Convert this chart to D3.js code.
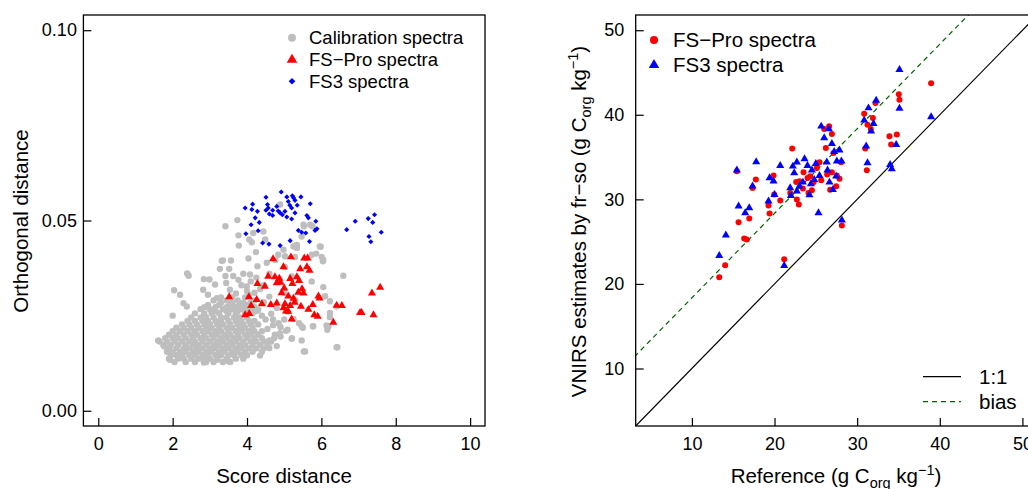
<html>
<meta charset="utf-8">
<style>
body { margin: 0; background: #fff; }
text { font-family: "Liberation Sans", Arial, sans-serif; fill: #000; }
.tick text { font-size: 18px; }
.title { font-size: 20.5px; }
.leg1 { font-size: 18.5px; }
.leg2 { font-size: 20.5px; }
</style>
<body>
<script src="https://cdn.jsdelivr.net/npm/d3@7"></script>
<script>

/* left panel: score distance vs orthogonal distance */
var calib = [
  // dense core, row by row
  [2.05,0.0128],[2.35,0.0128],[2.6,0.0128],[2.9,0.0128],[3.1,0.0128],[3.35,0.0128],[3.55,0.0128],
  [1.9,0.0137],[2.15,0.0137],[2.3,0.0137],[2.5,0.0137],[2.7,0.0137],[2.85,0.0137],[3.0,0.0137],[3.2,0.0137],[3.45,0.0137],[3.7,0.0137],[3.9,0.0137],
  [1.95,0.0146],[2.1,0.0146],[2.25,0.0146],[2.45,0.0146],[2.6,0.0146],[2.8,0.0146],[2.95,0.0146],[3.15,0.0146],[3.3,0.0146],[3.5,0.0146],[3.65,0.0146],[3.85,0.0146],[4.0,0.0146],
  [1.85,0.0155],[2.0,0.0155],[2.2,0.0155],[2.35,0.0155],[2.55,0.0155],[2.7,0.0155],[2.9,0.0155],[3.05,0.0155],[3.25,0.0155],[3.4,0.0155],[3.6,0.0155],[3.75,0.0155],[3.95,0.0155],[4.15,0.0155],
  [1.9,0.0164],[2.1,0.0164],[2.3,0.0164],[2.45,0.0164],[2.65,0.0164],[2.8,0.0164],[3.0,0.0164],[3.15,0.0164],[3.35,0.0164],[3.5,0.0164],[3.7,0.0164],[3.85,0.0164],[4.05,0.0164],[4.25,0.0164],[4.45,0.0164],
  [1.75,0.0173],[1.95,0.0173],[2.15,0.0173],[2.35,0.0173],[2.55,0.0173],[2.7,0.0173],[2.9,0.0173],[3.1,0.0173],[3.25,0.0173],[3.45,0.0173],[3.6,0.0173],[3.8,0.0173],[3.95,0.0173],[4.15,0.0173],[4.35,0.0173],[4.55,0.0173],
  [1.65,0.0182],[1.85,0.0182],[2.05,0.0182],[2.25,0.0182],[2.45,0.0182],[2.6,0.0182],[2.8,0.0182],[3.0,0.0182],[3.2,0.0182],[3.35,0.0182],[3.55,0.0182],[3.7,0.0182],[3.9,0.0182],[4.1,0.0182],[4.25,0.0182],[4.45,0.0182],[4.65,0.0182],
  [1.8,0.0191],[2.0,0.0191],[2.15,0.0191],[2.35,0.0191],[2.55,0.0191],[2.75,0.0191],[2.9,0.0191],[3.1,0.0191],[3.3,0.0191],[3.45,0.0191],[3.65,0.0191],[3.8,0.0191],[4.0,0.0191],[4.2,0.0191],[4.4,0.0191],
  [1.9,0.0200],[2.1,0.0200],[2.3,0.0200],[2.5,0.0200],[2.65,0.0200],[2.85,0.0200],[3.05,0.0200],[3.2,0.0200],[3.4,0.0200],[3.55,0.0200],[3.75,0.0200],[3.95,0.0200],[4.1,0.0200],[4.3,0.0200],
  [2.0,0.0209],[2.2,0.0209],[2.4,0.0209],[2.6,0.0209],[2.8,0.0209],[2.95,0.0209],[3.15,0.0209],[3.3,0.0209],[3.5,0.0209],[3.7,0.0209],[3.85,0.0209],[4.05,0.0209],[4.2,0.0209],[4.4,0.0209],
  [2.1,0.0218],[2.3,0.0218],[2.5,0.0218],[2.7,0.0218],[2.9,0.0218],[3.05,0.0218],[3.25,0.0218],[3.45,0.0218],[3.6,0.0218],[3.8,0.0218],[3.95,0.0218],[4.15,0.0218],
  [2.25,0.0227],[2.45,0.0227],[2.65,0.0227],[2.85,0.0227],[3.0,0.0227],[3.2,0.0227],[3.35,0.0227],[3.55,0.0227],[3.75,0.0227],[3.9,0.0227],[4.1,0.0227],[4.3,0.0227],
  [2.4,0.0236],[2.6,0.0236],[2.8,0.0236],[2.95,0.0236],[3.15,0.0236],[3.3,0.0236],[3.5,0.0236],[3.7,0.0236],[3.85,0.0236],[4.05,0.0236],[4.2,0.0236],
  [2.5,0.0245],[2.75,0.0245],[2.9,0.0245],[3.1,0.0245],[3.3,0.0245],[3.45,0.0245],[3.65,0.0245],[3.8,0.0245],[4.0,0.0245],
  [2.6,0.0256],[2.85,0.0256],[3.05,0.0256],[3.25,0.0256],[3.5,0.0256],[3.7,0.0256],[3.95,0.0256],[4.15,0.0256],
  [3.15,0.0262],[3.45,0.0262],[3.75,0.0262],[4.0,0.0262],[4.25,0.0262],
  [2.75,0.0267],[3.0,0.0267],[3.35,0.0267],[3.6,0.0267],[3.85,0.0267],[4.1,0.0267],
  [2.85,0.0272],[3.15,0.0272],[3.45,0.0272],[3.7,0.0272],[3.95,0.0272],[4.2,0.0272],
  [2.95,0.0278],[3.25,0.0278],[3.55,0.0278],[3.8,0.0278],[4.0,0.0278],
  [3.3,0.0284],[3.6,0.0284],[3.9,0.0284],[4.1,0.0284],
  [3.1,0.0290],[3.45,0.0290],[3.75,0.0290],[4.2,0.0290],
  [3.3,0.0298],[3.6,0.0298],[3.95,0.0298],[3.7,0.0308],[4.05,0.0305],
  // lower right of the core
  [4.6,0.0185],[4.75,0.0200],[4.9,0.0195],[5.05,0.0210],[4.7,0.0225],[4.55,0.0215],[4.85,0.0230],[5.0,0.0240],
  [4.8,0.0170],[4.6,0.0165],[4.4,0.0155],[4.5,0.0240],[4.65,0.0255],[4.4,0.0250],[4.3,0.0265],[4.45,0.0285],
  [4.6,0.0300],[4.2,0.0310],[4.0,0.0315],[4.35,0.0320],[3.85,0.0330],
  [4.8,0.0270],[5.0,0.0310],[4.7,0.0240],[5.1,0.0260],[4.9,0.0220],[5.3,0.0290],[5.4,0.0230],[4.45,0.0330],
  [4.25,0.0350],[4.1,0.0340],[3.9,0.0360],[4.6,0.0360],[4.85,0.0340],
  // scattered points
  [1.61,0.0185],[1.78,0.0169],[1.93,0.0134],[2.04,0.0317],[2.20,0.0305],[2.00,0.0250],[2.39,0.0361],[2.43,0.0355],
  [2.84,0.0346],[2.99,0.0345],[3.14,0.0332],[3.27,0.0373],[3.35,0.0395],[3.57,0.0395],[3.63,0.0354],[3.42,0.0354],
  [3.74,0.0501],[3.42,0.0485],[3.78,0.0434],[3.77,0.0461],[4.04,0.0400],[4.24,0.0417],[4.06,0.0450],[4.49,0.0450],
  [4.28,0.0380],[4.53,0.0389],[4.76,0.0396],[5.02,0.0406],[5.25,0.0432],[5.34,0.0428],[5.53,0.0485],[5.76,0.0485],
  [5.98,0.0431],[6.01,0.0404],[6.04,0.0393],[5.86,0.0413],[6.59,0.0355],[6.05,0.0325],[6.23,0.0288],[6.23,0.0257],
  [6.16,0.0213],[6.14,0.0224],[6.43,0.0167],[5.53,0.0156],[5.50,0.0218],[5.77,0.0222],[5.47,0.0185],[5.21,0.0191],
  [5.09,0.0213],[4.89,0.0204],[4.73,0.0191],[4.35,0.0145],[3.90,0.0143],[3.50,0.0130],[3.20,0.0134],[2.84,0.0127],
  [4.89,0.0542],[5.52,0.0489],[5.70,0.0489],[5.34,0.0436],[5.47,0.0458],[5.74,0.0410],[5.96,0.0432],[6.05,0.0397],
  [5.74,0.0340],[6.10,0.0301],[6.41,0.0274],[6.23,0.0246],[6.19,0.0222],[5.78,0.0222],[5.47,0.0222],[5.25,0.0241],
  [5.20,0.0189],[5.56,0.0156],[6.41,0.0167],[4.84,0.0410],[4.98,0.0423],[5.29,0.0404],[5.02,0.0378],[5.20,0.0353],
  [4.17,0.0467],[4.44,0.0471],[4.13,0.0443],[3.32,0.0394],[3.52,0.0373],[3.44,0.0336],[3.77,0.0344],[4.08,0.0358],
  [2.29,0.0283],[2.38,0.0274],[2.82,0.0318],[2.95,0.0305],[3.19,0.0296],[3.54,0.0318],[3.99,0.0327]
];

var fsProLeft = [
  [3.52,0.0299],[3.95,0.0252],[4.06,0.0255],[4.05,0.0299],[4.11,0.0276],[4.26,0.0292],[4.28,0.0334],[4.40,0.0281],
  [4.48,0.0327],[4.57,0.0353],[4.64,0.0279],[4.70,0.0399],[4.75,0.0352],[4.80,0.0283],[4.80,0.0336],[4.87,0.0348],
  [4.90,0.0337],[4.98,0.0378],[4.98,0.0270],[5.00,0.0322],[5.02,0.0281],[5.05,0.0262],[5.11,0.0301],[5.11,0.0261],
  [5.16,0.0347],[5.16,0.0276],[5.18,0.0404],[5.20,0.0241],[5.22,0.0334],[5.25,0.0295],[5.34,0.0352],[5.38,0.0311],
  [5.40,0.0342],[5.43,0.0373],[5.45,0.0274],[5.52,0.0309],[5.54,0.0401],[5.61,0.0378],[5.63,0.0401],[5.65,0.0266],
  [5.68,0.0369],[5.77,0.0279],[5.81,0.0252],[5.90,0.0248],[5.92,0.0301],[5.95,0.0296],[6.32,0.0232],[6.41,0.0277],
  [6.55,0.0276],[7.04,0.0258],[7.08,0.0258],[7.40,0.0252],[7.36,0.0309],[7.58,0.0324],[5.28,0.0285],[4.93,0.0310],
  [5.48,0.0320]
];

var fs3Left = [
  [4.51,0.0561],[4.15,0.0543],[3.95,0.0533],[4.13,0.0529],[4.28,0.0524],[4.55,0.0542],[4.57,0.0533],[4.51,0.0527],
  [4.60,0.0517],[4.69,0.0513],[4.22,0.0507],[4.33,0.0495],[4.11,0.0489],[4.30,0.0473],[3.97,0.0465],[4.42,0.0441],
  [4.59,0.0438],[4.92,0.0575],[5.07,0.0562],[5.22,0.0565],[5.29,0.0553],[5.45,0.0562],[5.11,0.0550],[4.80,0.0537],
  [5.20,0.0533],[5.29,0.0520],[5.02,0.0524],[4.89,0.0520],[5.07,0.0509],[4.95,0.0515],[5.20,0.0504],[5.70,0.0544],
  [5.61,0.0513],[5.65,0.0507],[5.85,0.0498],[5.88,0.0478],[5.83,0.0474],[5.38,0.0474],[5.47,0.0469],[5.58,0.0467],
  [5.16,0.0447],[5.68,0.0445],[4.89,0.0434],[6.68,0.0476],[6.91,0.0498],[7.26,0.0505],[7.43,0.0515],[7.38,0.0495],
  [7.61,0.0469],[7.28,0.0458],[7.33,0.0444],[4.69,0.0527],[4.84,0.0525],[5.25,0.0560],[5.35,0.0540],[5.15,0.0540]
];

/* right panel: reference vs VNIRS estimate */
var fsProRight = [
  [13.31,20.79],[14.03,22.21],[15.65,27.29],[15.44,33.32],[16.33,25.36],[16.65,25.24],[16.94,27.73],[17.34,31.35],
  [17.74,32.34],[19.27,29.27],[19.40,28.32],[19.88,32.81],[19.96,30.56],[20.69,29.86],[21.17,22.92],[21.90,30.76],
  [22.14,36.00],[22.62,32.06],[22.70,29.98],[22.94,29.39],[23.02,32.14],[23.51,33.21],[23.43,31.27],[23.99,32.53],
  [24.11,30.76],[24.31,32.73],[24.52,31.07],[24.72,32.02],[25.12,33.72],[25.44,34.39],[25.65,32.26],[26.01,38.33],
  [26.21,36.08],[26.37,32.93],[26.61,38.64],[26.94,37.73],[26.73,31.15],[26.94,33.20],[27.14,35.48],[27.46,31.55],
  [27.54,32.81],[27.86,32.45],[28.06,34.39],[28.15,26.90],[30.85,40.13],[30.97,36.00],[31.17,33.44],[31.25,38.83],
  [31.65,38.33],[31.90,39.63],[32.22,41.40],[33.91,37.46],[34.11,36.48],[34.80,37.66],[35.04,42.42],[35.12,41.79],
  [38.95,43.73]
];

var fs3Right = [
  [13.31,23.35],[14.11,25.76],[15.44,33.44],[15.65,29.19],[16.45,28.40],[16.94,28.99],[17.34,31.55],[17.78,34.43],
  [19.27,29.78],[19.40,32.53],[19.88,32.14],[20.00,30.56],[20.69,33.99],[21.17,22.17],[21.90,31.35],[21.98,30.44],
  [22.22,33.91],[22.38,33.13],[22.70,34.39],[22.70,30.96],[23.02,31.55],[23.43,32.02],[23.63,34.78],[23.99,33.99],
  [24.23,30.52],[24.40,31.82],[24.52,33.44],[24.80,32.34],[25.00,34.23],[25.32,28.40],[25.44,32.81],[25.65,38.64],
  [26.01,37.26],[26.33,34.39],[26.41,33.44],[26.57,38.33],[26.65,32.02],[26.94,36.59],[27.06,31.15],[27.22,35.63],
  [27.46,32.73],[27.54,34.51],[27.86,35.83],[28.10,34.51],[28.15,27.53],[30.85,39.35],[31.09,36.28],[31.25,34.31],
  [31.37,40.80],[31.69,38.05],[31.98,38.96],[32.30,41.70],[33.99,34.11],[34.19,33.60],[34.72,36.48],[35.12,40.76],
  [35.12,45.34],[38.95,39.75]
];

var leftXTicks = [0, 2, 4, 6, 8, 10],
    leftYTicks = [0, 0.05, 0.10],
    rightTicks = [10, 20, 30, 40, 50],
    biasOffset = 8.35;

var svg = d3.select("body").append("svg")
    .attr("width", 1028)
    .attr("height", 489);

var triangle = d3.symbol().type(d3.symbolTriangle),
    square = d3.symbol().type(d3.symbolSquare);

function frame(x, y, xTicks, yTicks, yFormat, yPad) {
    var x0 = x.range()[0], x1 = x.range()[1], y0 = y.range()[0], y1 = y.range()[1];
    svg.append("g")
        .attr("transform", "translate(0," + y0 + ")")
        .call(d3.axisBottom(x).tickValues(xTicks).tickSize(-8).tickPadding(11).tickFormat(d3.format("d")))
        .call(function(g) { g.select(".domain").remove(); });
    svg.append("g")
        .attr("transform", "translate(" + x0 + ",0)")
        .call(d3.axisLeft(y).tickValues(yTicks).tickSize(-8).tickPadding(yPad).tickFormat(yFormat))
        .call(function(g) { g.select(".domain").remove(); });
    svg.selectAll(".tick line").attr("stroke-width", 1.2);
    svg.append("rect")
        .attr("x", x0).attr("y", y1)
        .attr("width", x1 - x0).attr("height", y0 - y1)
        .attr("fill", "none").attr("stroke", "#000").attr("stroke-width", 1.3);
}

/********************
left panel
********************/
var xL = d3.scaleLinear().domain([-0.4, 10.4]).range([83.4, 485]),
    yL = d3.scaleLinear().domain([-0.004, 0.104]).range([426, 15]);

svg.append("g").selectAll("circle")
    .data(calib).enter().append("circle")
    .attr("cx", function(d) { return xL(d[0]); })
    .attr("cy", function(d) { return yL(d[1]); })
    .attr("r", 3.2)
    .attr("fill", "#bebebe");

svg.append("g").selectAll("path")
    .data(fsProLeft).enter().append("path")
    .attr("d", triangle.size(28))
    .attr("transform", function(d) { return "translate(" + xL(d[0]) + "," + yL(d[1]) + ")"; })
    .attr("fill", "#ff0000");

svg.append("g").selectAll("path")
    .data(fs3Left).enter().append("path")
    .attr("d", square.size(13))
    .attr("transform", function(d) { return "translate(" + xL(d[0]) + "," + yL(d[1]) + ") rotate(45)"; })
    .attr("fill", "#0000ff");

frame(xL, yL, leftXTicks, leftYTicks, d3.format(".2f"), 6.5);

svg.append("text").attr("class", "title")
    .attr("x", 284).attr("y", 482.5).attr("text-anchor", "middle")
    .text("Score distance");
svg.append("text").attr("class", "title")
    .attr("transform", "translate(28,221) rotate(-90)").attr("text-anchor", "middle")
    .text("Orthogonal distance");

// legend
svg.append("circle").attr("cx", 292).attr("cy", 37.7).attr("r", 4).attr("fill", "#bebebe");
svg.append("path").attr("d", triangle.size(48)).attr("transform", "translate(292,59.8)").attr("fill", "#ff0000");
svg.append("path").attr("d", square.size(22)).attr("transform", "translate(292,81.3) rotate(45)").attr("fill", "#0000ff");
svg.selectAll(".leg1")
    .data(["Calibration spectra", "FS\u2212Pro spectra", "FS3 spectra"])
    .enter().append("text").attr("class", "leg1")
    .attr("x", 309).attr("y", function(d, i) { return 44.2 + i * 21.8; })
    .text(function(d) { return d; });

/********************
right panel
********************/
var xR = d3.scaleLinear().domain([3.2, 51.8]).range([635.7, 1037.3]),
    yR = d3.scaleLinear().domain([3.2, 51.8]).range([426, 15]);

svg.append("clipPath").attr("id", "clipR")
    .append("rect").attr("x", 635.7).attr("y", 15).attr("width", 401.6).attr("height", 411);

var lines = svg.append("g").attr("clip-path", "url(#clipR)");
lines.append("line")
    .attr("x1", xR(0)).attr("y1", yR(0)).attr("x2", xR(60)).attr("y2", yR(60))
    .attr("stroke", "#000").attr("stroke-width", 1.2);
lines.append("line")
    .attr("x1", xR(0)).attr("y1", yR(biasOffset)).attr("x2", xR(60)).attr("y2", yR(60 + biasOffset))
    .attr("stroke", "#006400").attr("stroke-width", 1.2).attr("stroke-dasharray", "5,4");

svg.append("g").selectAll("circle")
    .data(fsProRight).enter().append("circle")
    .attr("cx", function(d) { return xR(d[0]); })
    .attr("cy", function(d) { return yR(d[1]); })
    .attr("r", 3)
    .attr("fill", "#ff0000");

svg.append("g").selectAll("path")
    .data(fs3Right).enter().append("path")
    .attr("d", triangle.size(28))
    .attr("transform", function(d) { return "translate(" + xR(d[0]) + "," + yR(d[1]) + ")"; })
    .attr("fill", "#0000ff");

frame(xR, yR, rightTicks, rightTicks, d3.format("d"), 11.5);

var xt = svg.append("text").attr("class", "title")
    .attr("x", 836).attr("y", 482.5).attr("text-anchor", "middle");
xt.append("tspan").text("Reference (g C");
xt.append("tspan").attr("dy", 5).style("font-size", "14.5px").text("org");
xt.append("tspan").attr("dy", -5).text(" kg");
xt.append("tspan").attr("dy", -8).style("font-size", "14.5px").text("\u22121");
xt.append("tspan").attr("dy", 8).text(")");

var yt = svg.append("text").attr("class", "title")
    .attr("transform", "translate(586,221.5) rotate(-90)").attr("text-anchor", "middle");
yt.append("tspan").text("VNIRS estimates by fr\u2212so (g C");
yt.append("tspan").attr("dy", 5).style("font-size", "14.5px").text("org");
yt.append("tspan").attr("dy", -5).text(" kg");
yt.append("tspan").attr("dy", -8).style("font-size", "14.5px").text("\u22121");
yt.append("tspan").attr("dy", 8).text(")");

// legends
svg.append("circle").attr("cx", 654).attr("cy", 40).attr("r", 4).attr("fill", "#ff0000");
svg.append("path").attr("d", triangle.size(48)).attr("transform", "translate(654,65)").attr("fill", "#0000ff");
svg.selectAll(".leg2a")
    .data(["FS\u2212Pro spectra", "FS3 spectra"])
    .enter().append("text").attr("class", "leg2")
    .attr("x", 673).attr("y", function(d, i) { return 47.2 + i * 24.5; })
    .text(function(d) { return d; });

svg.append("line").attr("x1", 923).attr("x2", 961).attr("y1", 376.7).attr("y2", 376.7)
    .attr("stroke", "#000").attr("stroke-width", 1.2);
svg.append("line").attr("x1", 923).attr("x2", 961).attr("y1", 401.7).attr("y2", 401.7)
    .attr("stroke", "#006400").attr("stroke-width", 1.2).attr("stroke-dasharray", "5,4");
svg.append("text").attr("class", "leg2").attr("x", 979).attr("y", 384).text("1:1");
svg.append("text").attr("class", "leg2").attr("x", 979).attr("y", 409).text("bias");

</script>
</html>
